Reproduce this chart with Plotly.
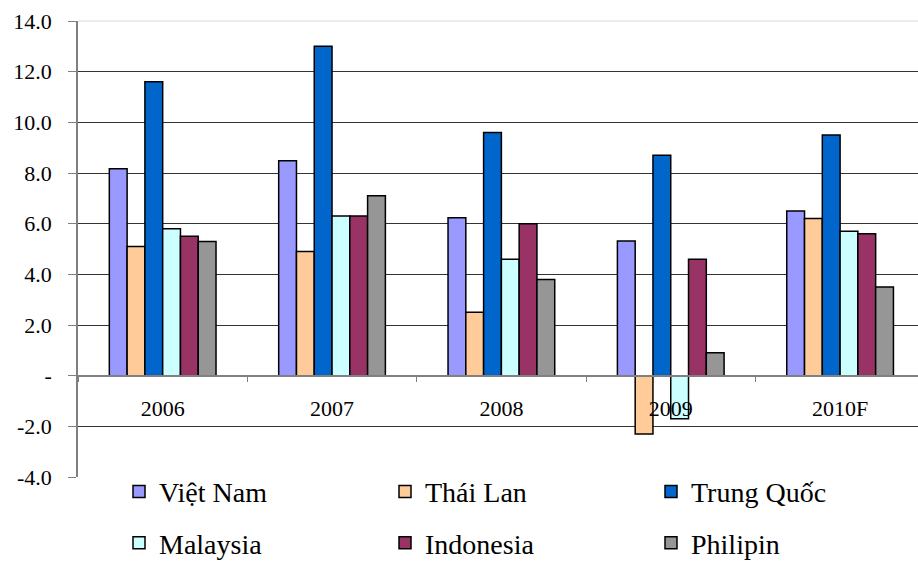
import plotly.graph_objects as go

categories = ["2006", "2007", "2008", "2009", "2010F"]
series_names = ["Việt Nam", "Thái Lan", "Trung Quốc", "Malaysia", "Indonesia", "Philipin"]
viet_nam = [8.17, 8.48, 6.23, 5.32, 6.5]
thai_lan = [5.1, 4.9, 2.5, -2.3, 6.2]
trung_quoc = [11.6, 13.0, 9.6, 8.7, 9.5]
malaysia = [5.8, 6.3, 4.6, -1.7, 5.7]
indonesia = [5.5, 6.3, 6.0, 4.6, 5.6]
philipin = [5.3, 7.1, 3.8, 0.9, 3.5]
colors = ["#9999FF", "#FFCC99", "#0066CC", "#CCFFFF", "#993366", "#969696"]
y_tickvals = [-4, -2, 0, 2, 4, 6, 8, 10, 12, 14]
y_ticktext = ["-4.0", "-2.0", "-", "2.0", "4.0", "6.0", "8.0", "10.0", "12.0", "14.0"]
grid_vals = [-2, 2, 4, 6, 8, 10, 12]

values = [viet_nam, thai_lan, trung_quoc, malaysia, indonesia, philipin]
FONT = "Liberation Serif"

fig = go.Figure()
for i, (name, vals, col) in enumerate(zip(series_names, values, colors)):
    fig.add_trace(go.Bar(
        x=categories, y=vals, name=name,
        marker=dict(color=col, line=dict(color="black", width=1.5)),
        legend="legend" if i < 3 else "legend2",
    ))

ymin, ymax = y_tickvals[0], y_tickvals[-1]

fig.update_layout(
    width=918, height=561,
    margin=dict(l=78, r=0, t=21, b=84, autoexpand=False),
    plot_bgcolor="white", paper_bgcolor="white",
    barmode="group", bargap=0.37, bargroupgap=0,
    font=dict(family=FONT, color="black", size=22),
    xaxis=dict(
        type="category", range=[-0.5, 4.46],
        anchor="free", position=(0 - ymin) / (ymax - ymin),
        showline=True, linecolor="#808080", linewidth=1.5,
        ticks="outside", tickson="boundaries", ticklen=6, tickcolor="#808080",
        tickfont=dict(family=FONT, size=22, color="black"),
        ticklabelstandoff=13,
        showgrid=False, zeroline=False,
    ),
    yaxis=dict(
        range=[ymin, ymax], tickvals=y_tickvals, ticktext=y_ticktext,
        showline=True, linecolor="#808080", linewidth=1.5,
        ticks="outside", ticklen=8, tickcolor="#808080",
        showgrid=False, zeroline=False,
        minor=dict(tickvals=grid_vals, showgrid=True, gridcolor="#333333",
                   gridwidth=1, ticks=""),
        tickfont=dict(family=FONT, size=22, color="black"),
        ticklabelstandoff=12,
    ),
    shapes=[dict(type="line", xref="paper", yref="paper", x0=0, x1=1, y0=1, y1=1,
                 line=dict(color="#e6e6e6", width=1.5), layer="below")],
    legend=dict(
        orientation="h", xref="container", yref="container",
        x=119 / 918, y=1 - 491.7 / 561, xanchor="left", yanchor="middle",
        entrywidth=221, entrywidthmode="pixels",
        font=dict(family=FONT, size=28, color="black"),
        bgcolor="rgba(0,0,0,0)",
    ),
    legend2=dict(
        orientation="h", xref="container", yref="container",
        x=119 / 918, y=1 - 543 / 561, xanchor="left", yanchor="middle",
        entrywidth=221, entrywidthmode="pixels",
        font=dict(family=FONT, size=28, color="black"),
        bgcolor="rgba(0,0,0,0)",
    ),
    showlegend=True,
)

fig.write_html(
    "out.html",
    config={"displayModeBar": False},
    post_script="document.body.style.margin='0';document.body.style.overflow='hidden';",
)
